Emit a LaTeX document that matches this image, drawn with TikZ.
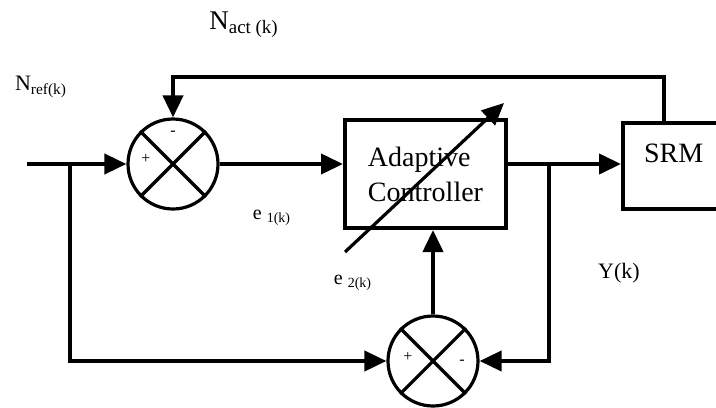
\documentclass[tikz,border=0pt]{standalone}
\usepackage{fontspec}
\setmainfont{Liberation Serif}
\usetikzlibrary{arrows.meta,positioning}

\begin{document}
\begin{tikzpicture}[x=0.5pt,y=-0.5pt,every node/.style={font=\fontsize{14}{17.5}\selectfont},
  sig/.style={line width=2pt,-{Triangle[length=11pt,width=10pt]}},
  wire/.style={line width=2pt},
  blk/.style={draw,line width=2pt,inner sep=0pt},
  sumnode/.style={circle,draw,line width=1.6pt,minimum size=45pt,inner sep=0pt},
  sgn/.style={font=\fontsize{8}{9}\selectfont,inner sep=0pt}]
\clip (0,0) rectangle (716,407);
\useasboundingbox (0,0) rectangle (716,407);
% junctions and blocks
\node[sumnode] (s1) at (173,164) {};
\node[sumnode] (s2) at (433,361) {};
\draw[line width=1.6pt] (s1.north west)--(s1.south east) (s1.north east)--(s1.south west);
\draw[line width=1.6pt] (s2.north west)--(s2.south east) (s2.north east)--(s2.south west);
\node[blk,minimum width=80.5pt,minimum height=54pt,align=left] (ctrl) at (425.5,174) {Adaptive\\Controller};
\node[blk,anchor=north west,inner xsep=10.5pt,text width=50pt,text height=19.5pt,text depth=23.5pt,align=left] (srm) at (621,121) {SRM};
% signs
\node[sgn] (s1m) at (173,133) {-};
\node[sgn] (s1p) at (146,159) {+};
\node[sgn] (s2p) at (408,357) {+};
\node[sgn] (s2m) at (462,362) {-};
% free ends
\coordinate (in) at (27,164);
\coordinate (br1) at (70,164);
\coordinate (br2) at (549,164);
\coordinate (fb) at (664,121);
\coordinate (top) at (0,77);
\coordinate (adj0) at (345,252);
\coordinate (adj1) at (504,103);
% connectors
\draw[sig] (in) -- (s1.west);
\draw[sig] (s1.east) -- (s1.east -| ctrl.west);
\draw[sig] (ctrl.east |- s1) -- (srm.west |- s1);
\draw[sig] (fb) -- (fb |- top) -| (s1.north);
\draw[sig] (br1) |- (s2.west);
\draw[sig] (br2) |- (s2.east);
\draw[sig] (s2.north) -- (s2.north |- ctrl.south);
\draw[line width=1.6pt,-{Triangle[length=11pt,width=10pt]}] (adj0) -- (adj1);
% labels
\node[font=\fontsize{13.5}{15}\selectfont] (nact) at (244,25) {N\textsubscript{act (k)}};
\node[font=\fontsize{11}{13}\selectfont] (nref) at (41,87) {N\textsubscript{ref(k)}};
\node[font=\fontsize{10}{12}\selectfont] (e1) at (272,218) {e \textsubscript{1(k)}};
\node[font=\fontsize{10}{12}\selectfont] (e2) at (353,283) {e \textsubscript{2(k)}};
\node[font=\fontsize{11}{13}\selectfont] (yk) at (619,273) {Y(k)};
\end{tikzpicture}
\end{document}
